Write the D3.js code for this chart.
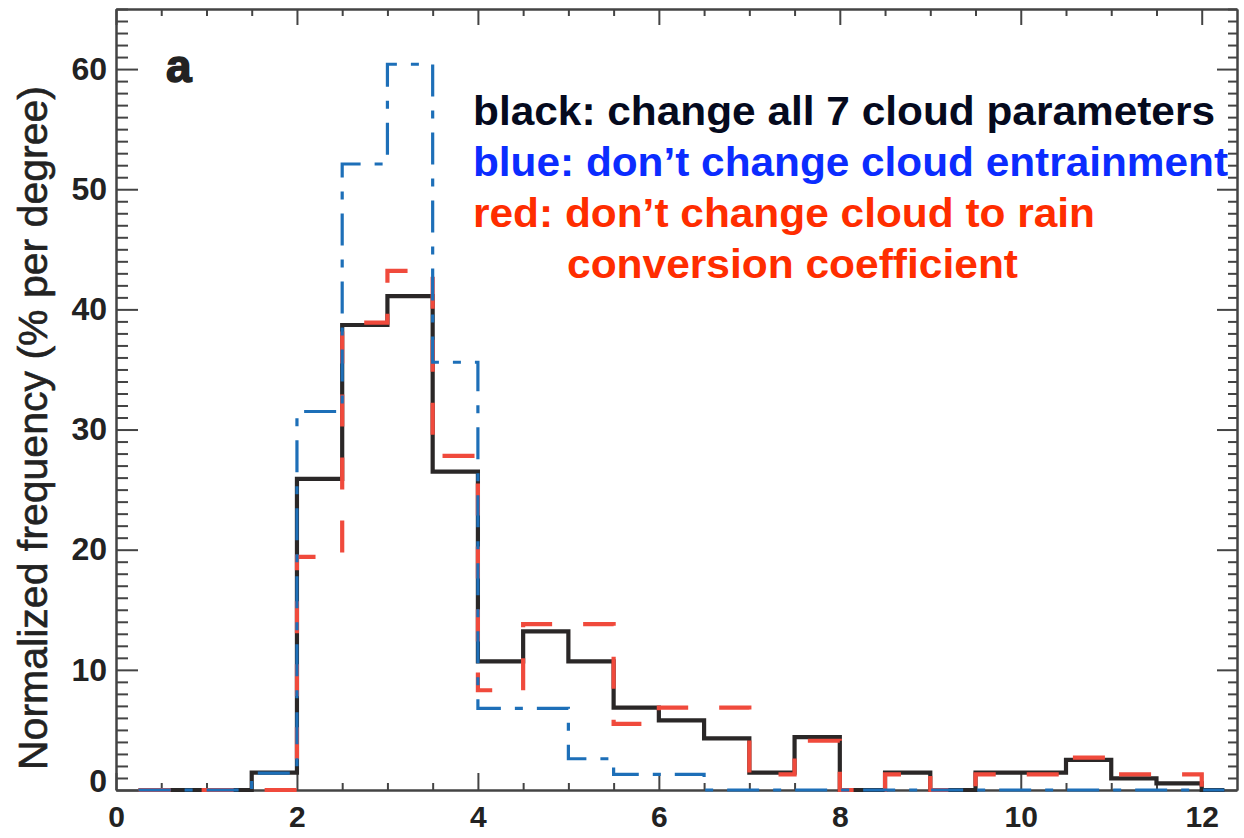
<!DOCTYPE html>
<html>
<head>
<meta charset="utf-8">
<script src="https://cdn.jsdelivr.net/npm/d3@7"></script>
<style>
  body { margin: 0; background: #fff; }
  svg { display: block; font-family: "Liberation Sans", Arial, Helvetica, sans-serif; }
</style>
</head>
<body>
<div id="root"></div>
<script>
// bin centres (degrees), 0.5 degree bins
var binCenters = [0.25, 0.75, 1.25, 1.75, 2.25, 2.75, 3.25, 3.75, 4.25, 4.75, 5.25, 5.75, 6.25,
                  6.75, 7.25, 7.75, 8.25, 8.75, 9.25, 9.75, 10.25, 10.75, 11.25, 11.75, 12.25];

// normalized frequency (% per degree)
var blackVals = [0, 0, 0, 1.45, 25.9, 38.7, 41.1, 26.5, 10.7, 13.2, 10.7, 6.85, 5.8,
                 4.3, 1.45, 4.4, 0, 1.45, 0, 1.45, 1.45, 2.5, 0.97, 0.55, 0];
var blueVals  = [0, 0, 0, 1.4, 31.5, 52.1, 60.4, 35.6, 6.8, 6.8, 2.6, 1.3, 1.3,
                 0, 0, 0, 0, 0, 0, 0, 0, 0, 0, 0, 0];
var redVals   = [0, 0, 0, 0, 19.4, 38.9, 43.2, 27.8, 8.3, 13.8, 13.8, 5.5, 6.85,
                 6.85, 1.3, 4.1, 0, 1.3, 0, 1.3, 1.3, 2.7, 1.3, 1.3, 0];

var xMajorTicks = [0, 2, 4, 6, 8, 10, 12];
var yMajorTicks = [0, 10, 20, 30, 40, 50, 60];

var legendText = [
    "black: change all 7 cloud parameters",
    "blue: don\u2019t change cloud entrainment",
    "red: don\u2019t change cloud to rain",
    "conversion coefficient"
];
var yTitle = "Normalized frequency (% per degree)";
var panelLabel = "a";

// layout
var W = 1244, H = 838;
var pLeft = 116, pRight = 1237, pTop = 9, pBottom = 790;
var axisColor = "#444";

var svg = d3.select("#root").append("svg")
    .attr("width", W)
    .attr("height", H);

var x = d3.scaleLinear().domain([0, 12.39]).range([pLeft, pRight]);
var y = d3.scaleLinear().domain([0, 65]).range([pBottom, pTop]);

var xMinor = d3.range(0, 12.4, 0.5).filter(function (d) { return d % 2 !== 0; });
var yMinor = d3.range(0, 66, 1).filter(function (d) { return d % 10 !== 0; });

// minor ticks first (no labels)
function minor(axis, vals, size) {
    return axis.tickValues(vals).tickSize(-size).tickSizeOuter(0).tickFormat("");
}

svg.append("g").attr("transform", "translate(0," + pBottom + ")")
    .call(minor(d3.axisBottom(x), xMinor, 7));
svg.append("g").attr("transform", "translate(0," + pTop + ")")
    .call(minor(d3.axisTop(x), xMinor, 7));
svg.append("g").attr("transform", "translate(" + pLeft + ",0)")
    .call(minor(d3.axisLeft(y), yMinor, 12));
svg.append("g").attr("transform", "translate(" + pRight + ",0)")
    .call(minor(d3.axisRight(y), yMinor, 9));

// major ticks
svg.append("g").attr("class", "xaxis")
    .attr("transform", "translate(0," + pBottom + ")")
    .call(d3.axisBottom(x).tickValues(xMajorTicks).tickSize(-17).tickSizeOuter(0).tickPadding(16));
svg.append("g").attr("transform", "translate(0," + pTop + ")")
    .call(d3.axisTop(x).tickValues(xMajorTicks).tickSize(-16).tickSizeOuter(0).tickFormat(""));
var yAxis = svg.append("g").attr("class", "yaxis")
    .attr("transform", "translate(" + pLeft + ",0)")
    .call(d3.axisLeft(y).tickValues(yMajorTicks).tickSize(-22).tickSizeOuter(0).tickPadding(9));
svg.append("g").attr("transform", "translate(" + pRight + ",0)")
    .call(d3.axisRight(y).tickValues(yMajorTicks).tickSize(-20).tickSizeOuter(0).tickFormat(""));

svg.selectAll(".domain, .tick line")
    .attr("stroke", axisColor)
    .attr("stroke-width", 2);

svg.selectAll(".yaxis text")
    .attr("fill", "#222")
    .style("font-size", "32px")
    .style("font-weight", "bold");
svg.selectAll(".xaxis text")
    .attr("fill", "#222")
    .style("font-size", "30px")
    .style("font-weight", "bold");

// "0" on the y axis sits a little higher than its tick
yAxis.selectAll(".tick text").filter(function (d) { return d === 0; })
    .attr("y", -9);

// histogram lines (IDL psym=10 style -> curveStep)
var step = d3.line()
    .x(function (d) { return x(d[0]); })
    .y(function (d) { return y(d[1]); })
    .curve(d3.curveStep);

function series(vals) {
    return binCenters.map(function (c, i) { return [c, vals[i]]; });
}

svg.append("path")
    .datum(series(blackVals))
    .attr("fill", "none")
    .attr("stroke", "#2a2727")
    .attr("stroke-width", 4.2)
    .attr("d", step);

svg.append("path")
    .datum(series(redVals))
    .attr("fill", "none")
    .attr("stroke", "#f04a3c")
    .attr("stroke-width", 4.2)
    .attr("stroke-dasharray", "32,31")
    .attr("d", step);

svg.append("path")
    .datum(series(blueVals))
    .attr("fill", "none")
    .attr("stroke", "#1d6fb8")
    .attr("stroke-width", 3.2)
    .attr("stroke-dasharray", "32,14,8,14")
    .attr("d", step);

// axis title
svg.append("text")
    .attr("transform", "translate(47,428) rotate(-90)")
    .attr("text-anchor", "middle")
    .attr("fill", "#222")
    .attr("stroke", "#222")
    .attr("stroke-width", 0.6)
    .style("font-size", "40px")
    .attr("textLength", 684)
    .attr("lengthAdjust", "spacingAndGlyphs")
    .text(yTitle);

// panel label
svg.append("text")
    .attr("x", 166)
    .attr("y", 82)
    .attr("fill", "#222")
    .attr("stroke", "#222")
    .attr("stroke-width", 1.5)
    .style("font-size", "46px")
    .style("font-weight", "900")
    .text(panelLabel);

// legend
var legendColors = ["#050a1e", "#0b2cff", "#ff2d00", "#ff2d00"];
var legendX = [473, 473, 473, 567];
var legendWidth = [742, 755, 622, 451];
svg.selectAll(".legend")
    .data(legendText)
    .enter().append("text")
    .attr("class", "legend")
    .attr("x", function (d, i) { return legendX[i]; })
    .attr("y", function (d, i) { return 125 + i * 51; })
    .attr("fill", function (d, i) { return legendColors[i]; })
    .attr("textLength", function (d, i) { return legendWidth[i]; })
    .attr("lengthAdjust", "spacingAndGlyphs")
    .style("font-size", "40px")
    .style("font-weight", "bold")
    .text(function (d) { return d; });
</script>
</body>
</html>
